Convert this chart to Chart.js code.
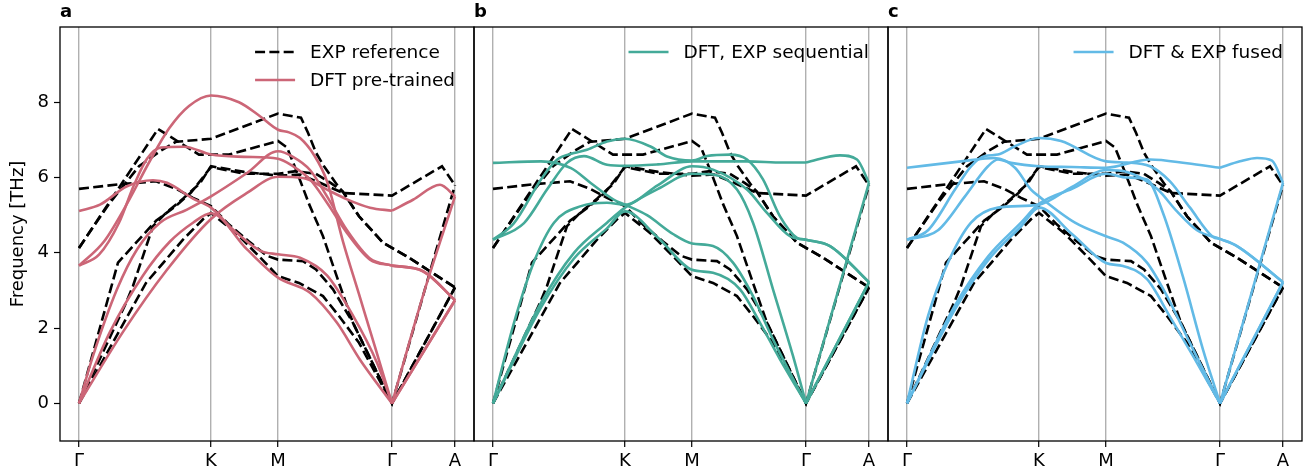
<!DOCTYPE html>
<html>
<head>
<meta charset="utf-8">
<script src="https://cdn.jsdelivr.net/npm/chart.js@4.4.1/dist/chart.umd.min.js"></script>
<style>
    html, body { margin: 0; padding: 0; background: #fff; }
    #wrap { position: relative; width: 1312px; height: 473px; }
    #wrap canvas { position: absolute; left: 0; top: 0; }
</style>
</head>
<body>
<div id="wrap">
    <canvas id="panelA" width="1312" height="473"></canvas>
    <canvas id="panelB" width="1312" height="473"></canvas>
    <canvas id="panelC" width="1312" height="473"></canvas>
</div>
<script>
// Phonon dispersion - EXP reference vs three DFT models

// High-symmetry points along the path (path distance, arb. units)
const KPOS = [0, 132, 199, 313, 376];
const KLABELS = ['Γ', 'K', 'M', 'Γ', 'A'];
const YTICKS = [0, 2, 4, 6, 8];

// EXP reference branches [k, THz]
const exp1 = [[0, 4.13], [79, 7.29], [120, 6.61], [132, 6.61], [150, 6.61], [199, 6.97], [208, 6.8], [217, 6.21], [230, 5.3], [244, 4.44], [260, 3.2], [274, 2.14], [313, 0], [376, 5.8]];
const exp2 = [[0, 4.13], [30, 5.3], [60, 6.3], [81, 6.7], [97, 6.95], [132, 7.03], [199, 7.7], [222, 7.59], [229, 7.19], [237, 6.66], [245, 6.3], [259, 5.77], [264, 5.62], [280, 4.97], [304, 4.27], [313, 4.13], [330, 3.87], [376, 3.08]];
const exp3 = [[0, 5.7], [40, 5.82], [77, 5.9], [97, 5.7], [114, 5.46], [132, 5.24], [150, 4.75], [170, 4.3], [188, 3.92], [199, 3.82], [224, 3.78], [237, 3.56], [254, 3.03], [274, 2.14], [313, 0], [376, 3.08]];
const exp4 = [[0, 0], [39, 3.74], [77, 4.85], [97, 5.25], [112, 5.6], [132, 6.28], [165, 6.1], [199, 6.1], [217, 6.17], [237, 6.1], [252, 5.85], [264, 5.62], [280, 4.97], [304, 4.27], [313, 4.13], [330, 3.87], [376, 3.08]];
const exp5 = [[0, 0], [47, 2.67], [54, 3.12], [74, 4.71], [87, 5.06], [104, 5.44], [121, 5.85], [132, 6.3], [165, 6.15], [199, 6.05], [221, 6.08], [241, 5.86], [264, 5.59], [313, 5.52], [363, 6.3], [376, 5.8]];
const exp6 = [[0, 0], [67, 3.2], [87, 3.82], [104, 4.35], [124, 4.89], [132, 5.06], [157, 4.53], [184, 3.8], [199, 3.38], [220, 3.2], [244, 2.85], [260, 2.32], [280, 1.61], [313, 0], [376, 3.08]];

// DFT pre-trained (panel a)
const pre1 = [[0, 3.66], [25, 4.3], [50, 5.4], [70, 6.4], [90, 7.3], [110, 7.9], [132, 8.18], [160, 8.0], [180, 7.65], [199, 7.27], [210, 7.2], [221, 7.05], [235, 6.6], [248, 5.9], [264, 4.3], [280, 2.9], [296, 1.5], [313, 0], [345, 2.95], [376, 5.5]];
const pre2 = [[0, 3.66], [20, 3.95], [40, 4.8], [55, 5.8], [68, 6.5], [82, 6.8], [105, 6.82], [132, 6.61], [165, 6.55], [199, 6.5], [214, 6.3], [231, 5.95], [248, 5.33], [268, 4.53], [291, 3.82], [313, 3.66], [344, 3.51], [376, 2.74]];
const pre3 = [[0, 5.11], [21, 5.28], [48, 5.77], [74, 5.93], [88, 5.86], [114, 5.44], [132, 5.2], [154, 4.62], [181, 4.06], [199, 3.96], [221, 3.87], [248, 3.4], [274, 2.33], [298, 1.08], [313, 0], [376, 2.74]];
const pre4 = [[0, 0], [14, 1.26], [38, 3.03], [58, 4.09], [81, 4.8], [108, 5.15], [132, 5.5], [168, 6.12], [199, 6.7], [214, 6.55], [231, 6.2], [248, 5.5], [268, 4.6], [291, 3.85], [313, 3.66], [344, 3.51], [376, 2.74]];
const pre5 = [[0, 0], [31, 1.9], [64, 3.4], [91, 4.3], [114, 4.8], [132, 5.05], [168, 4.09], [199, 3.34], [231, 2.94], [258, 2.14], [281, 1.16], [313, 0], [376, 2.74]];
const pre6 = [[0, 0], [44, 1.9], [88, 3.55], [132, 4.9], [168, 5.59], [199, 6.02], [224, 5.99], [248, 5.68], [268, 5.42], [291, 5.2], [313, 5.12], [334, 5.41], [361, 5.81], [376, 5.5]];

// DFT, EXP sequential (panel b)
const seq1 = [[0, 6.39], [48, 6.43], [78, 6.25], [98, 5.85], [121, 5.41], [132, 5.28], [154, 5.0], [180, 4.5], [199, 4.25], [220, 4.18], [240, 3.74], [260, 2.85], [280, 1.7], [313, 0], [376, 3.22]];
const seq2 = [[0, 4.35], [21, 4.79], [48, 5.95], [64, 6.47], [81, 6.65], [94, 6.74], [114, 6.96], [132, 7.03], [157, 6.83], [174, 6.56], [199, 6.45], [214, 6.57], [237, 6.61], [254, 6.48], [270, 5.95], [287, 4.97], [304, 4.4], [313, 4.35], [337, 4.18], [376, 3.22]];
const seq3 = [[0, 4.35], [31, 4.79], [54, 5.68], [74, 6.39], [91, 6.57], [114, 6.34], [132, 6.31], [165, 6.35], [199, 6.43], [254, 6.43], [290, 6.4], [313, 6.4], [347, 6.59], [364, 6.48], [376, 5.86]];
const seq4 = [[0, 0], [21, 2.14], [41, 3.76], [61, 4.8], [88, 5.24], [114, 5.33], [132, 5.28], [165, 5.8], [199, 6.3], [220, 6.21], [254, 5.68], [274, 5.06], [297, 4.44], [313, 4.35], [337, 4.18], [376, 3.22]];
const seq5 = [[0, 0], [48, 2.67], [81, 4.0], [114, 4.8], [132, 5.2], [165, 5.7], [199, 6.1], [220, 6.08], [244, 5.68], [260, 4.8], [280, 3.03], [300, 1.26], [313, 0], [376, 5.86]];
const seq6 = [[0, 0], [48, 2.55], [81, 3.85], [114, 4.65], [132, 5.1], [165, 4.4], [199, 3.55], [220, 3.47], [247, 3.03], [267, 2.14], [287, 1.17], [313, 0], [376, 3.22]];

// DFT & EXP fused (panel c)
const fus1 = [[0, 6.26], [54, 6.43], [88, 6.52], [108, 6.26], [124, 5.68], [132, 5.5], [168, 4.8], [199, 4.44], [216, 4.27], [240, 3.74], [260, 2.85], [283, 1.6], [313, 0], [376, 3.22]];
const fus2 = [[0, 4.35], [21, 4.6], [48, 5.68], [64, 6.3], [78, 6.57], [91, 6.61], [108, 6.83], [132, 7.05], [154, 6.97], [199, 6.43], [220, 6.4], [243, 6.3], [263, 5.9], [283, 5.2], [306, 4.42], [313, 4.37], [330, 4.18], [376, 3.22]];
const fus3 = [[0, 4.35], [31, 4.6], [58, 5.5], [81, 6.3], [91, 6.48], [104, 6.39], [132, 6.3], [165, 6.28], [199, 6.26], [243, 6.48], [280, 6.38], [313, 6.26], [333, 6.43], [350, 6.52], [365, 6.45], [376, 5.86]];
const fus4 = [[0, 0], [21, 2.32], [41, 3.74], [64, 4.8], [91, 5.2], [132, 5.28], [165, 5.75], [199, 6.2], [220, 6.15], [250, 5.7], [270, 5.1], [290, 4.6], [313, 4.37], [330, 4.18], [376, 3.22]];
const fus5 = [[0, 0], [48, 2.6], [81, 3.9], [114, 4.8], [132, 5.3], [165, 5.7], [199, 6.1], [220, 6.0], [240, 5.95], [256, 5.06], [276, 3.36], [296, 1.43], [313, 0], [376, 5.86]];
const fus6 = [[0, 0], [48, 2.5], [81, 3.8], [114, 4.7], [132, 5.2], [165, 4.5], [199, 3.73], [216, 3.65], [240, 3.3], [263, 2.3], [286, 1.26], [313, 0], [376, 3.22]];

const EXP_BRANCHES = [exp1, exp2, exp3, exp4, exp5, exp6];

// Styles
const FONT = 'DejaVu Sans';
const LINE_W = 2.6;
const GRID_COLOR = '#b0b0b0';

Chart.defaults.font.family = FONT;
Chart.defaults.font.size = 18;
Chart.defaults.color = '#000';

// Split a DFT branch at the second Γ so the acoustic cusp stays sharp
function splitBranch(branch) {
    const g2 = KPOS[3];
    return [branch.filter(p => p[0] <= g2), branch.filter(p => p[0] >= g2)];
}

function toPoints(branch) {
    return branch.map(([x, y]) => ({ x, y }));
}

function expDatasets() {
    return EXP_BRANCHES.map(b => ({
        data: toPoints(b),
        borderColor: '#000',
        borderWidth: LINE_W,
        borderDash: [10, 4.3],
        tension: 0,
        pointRadius: 0,
        order: 1
    }));
}

function dftDatasets(branches, color) {
    const out = [];
    branches.forEach(b => {
        splitBranch(b).forEach(seg => {
            out.push({
                data: toPoints(seg),
                borderColor: color,
                borderWidth: LINE_W,
                cubicInterpolationMode: 'monotone',
                pointRadius: 0,
                order: 0
            });
        });
    });
    return out;
}

// Frame, panel letter and legend drawn by hand
function panelDecor(letter, legendItems) {
    return {
        id: 'panelDecor' + letter,
        afterDraw(chart) {
            const { ctx, chartArea: a } = chart;
            ctx.save();
            ctx.strokeStyle = '#000';
            ctx.lineWidth = 1.3;
            ctx.strokeRect(a.left, a.top, a.right - a.left, a.bottom - a.top);

            ctx.fillStyle = '#000';
            ctx.font = 'bold 18px ' + FONT;
            ctx.textAlign = 'left';
            ctx.textBaseline = 'alphabetic';
            ctx.fillText(letter, a.left, 17);

            // legend
            ctx.font = '18.5px ' + FONT;
            const textW = Math.max(...legendItems.map(it => ctx.measureText(it.text).width));
            const textX = a.right - 19 - textW;
            const handleX = textX - 15 - 40;
            legendItems.forEach((it, i) => {
                const y = 52 + i * 28;
                ctx.strokeStyle = it.color;
                ctx.lineWidth = LINE_W;
                ctx.setLineDash(it.dash ? [10, 4.3] : []);
                ctx.beginPath();
                ctx.moveTo(handleX, y);
                ctx.lineTo(handleX + 40, y);
                ctx.stroke();
                ctx.setLineDash([]);
                ctx.textBaseline = 'middle';
                ctx.fillText(it.text, textX, y + 1);
            });
            ctx.restore();
        }
    };
}

function makePanel(canvasId, padLeft, padRight, showY, branches, color, label, letter) {
    const legendItems = showY
        ? [{ text: 'EXP reference', color: '#000', dash: true }, { text: label, color }]
        : [{ text: label, color }];

    return new Chart(document.getElementById(canvasId), {
        type: 'line',
        data: { datasets: dftDatasets(branches, color).concat(expDatasets()) },
        options: {
            responsive: false,
            animation: false,
            devicePixelRatio: 1,
            layout: { padding: { left: padLeft, right: padRight, top: 27, bottom: 0 } },
            plugins: { legend: { display: false }, tooltip: { enabled: false } },
            scales: {
                x: {
                    type: 'linear',
                    min: -19,
                    max: 395,
                    afterBuildTicks: s => { s.ticks = KPOS.map(v => ({ value: v })); },
                    afterFit: s => { s.height = 32; },
                    ticks: {
                        padding: 4,
                        font: { size: 18 },
                        callback: (v) => KLABELS[KPOS.indexOf(v)]
                    },
                    grid: {
                        color: GRID_COLOR,
                        lineWidth: 1.4,
                        drawTicks: true,
                        tickLength: 6,
                        tickColor: '#000',
                        tickWidth: 1.2
                    },
                    border: { display: false }
                },
                y: {
                    display: showY,
                    min: -1,
                    max: 10,
                    afterBuildTicks: s => { s.ticks = YTICKS.map(v => ({ value: v })); },
                    afterFit: s => { s.width = showY ? 60 : 0; },
                    ticks: { padding: 5, font: { size: 18 } },
                    grid: {
                        drawOnChartArea: false,
                        drawTicks: true,
                        tickLength: 6,
                        tickColor: '#000',
                        tickWidth: 1.2
                    },
                    border: { display: false },
                    title: {
                        display: showY,
                        text: 'Frequency [THz]',
                        font: { size: 18 },
                        padding: { top: 8, bottom: 0 }
                    }
                }
            }
        },
        plugins: [panelDecor(letter, legendItems)]
    });
}

document.addEventListener('DOMContentLoaded', function () {
    makePanel('panelA', 0, 1312 - 474, true, [pre1, pre2, pre3, pre4, pre5, pre6], '#CC6677', 'DFT pre-trained', 'a');
    makePanel('panelB', 474, 1312 - 888, false, [seq1, seq2, seq3, seq4, seq5, seq6], '#44AA99', 'DFT, EXP sequential', 'b');
    makePanel('panelC', 888, 1312 - 1302, false, [fus1, fus2, fus3, fus4, fus5, fus6], '#62BAE6', 'DFT & EXP fused', 'c');
});
</script>
</body>
</html>
